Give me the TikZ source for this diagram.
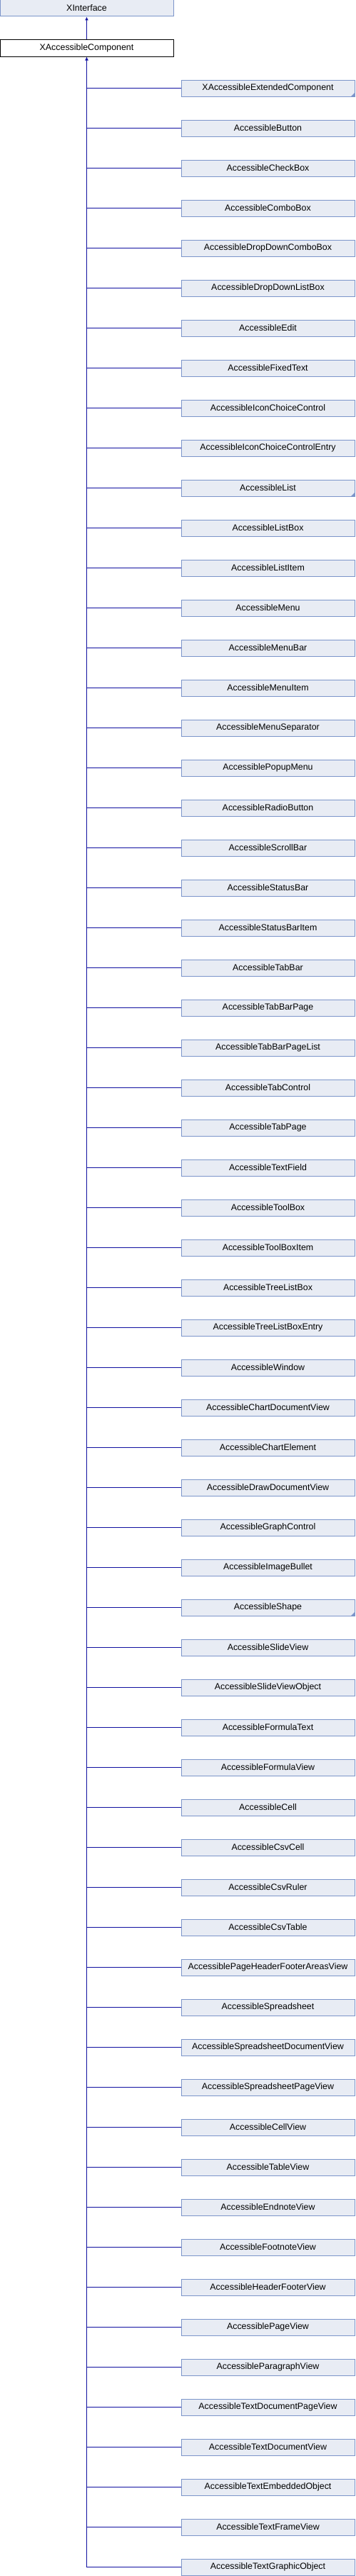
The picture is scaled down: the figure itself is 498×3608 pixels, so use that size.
\documentclass[tikz,border=0pt]{standalone}
\usepackage{fontspec}
\setmainfont{Liberation Sans}
\usetikzlibrary{arrows.meta}

\definecolor{boxfill}{RGB}{232,236,244}
\definecolor{boxline}{RGB}{124,149,202}
\definecolor{linkline}{RGB}{16,16,160}

\tikzset{
  classbox/.style={rectangle, draw=boxline, fill=boxfill, line width=1pt,
    minimum width=243pt, minimum height=23pt, inner sep=0pt,
    font=\fontsize{12.4}{14}\selectfont},
  rootbox/.style={classbox, draw=black, fill=white},
  inherit/.style={draw=linkline, line width=1pt},
  inharrow/.style={inherit, -{Latex[length=5pt,width=5pt]}},
}

\begin{document}
\begin{tikzpicture}[x=1pt, y=1pt]
  \useasboundingbox (0,0) rectangle (498,-3608);
  \node[classbox] (iface) at (121.5,-11.5) {XInterface};
  \node[rootbox] (comp) at (121.5,-67.5) {XAccessibleComponent};
  \draw[inharrow] (comp.north) -- (iface.south);
  % derived classes, one row each
  \foreach \name [count=\i] in {XAccessibleExtendedComponent, AccessibleButton,
      AccessibleCheckBox, AccessibleComboBox, AccessibleDropDownComboBox,
      AccessibleDropDownListBox, AccessibleEdit, AccessibleFixedText,
      AccessibleIconChoiceControl, AccessibleIconChoiceControlEntry,
      AccessibleList, AccessibleListBox, AccessibleListItem, AccessibleMenu,
      AccessibleMenuBar, AccessibleMenuItem, AccessibleMenuSeparator,
      AccessiblePopupMenu, AccessibleRadioButton, AccessibleScrollBar,
      AccessibleStatusBar, AccessibleStatusBarItem, AccessibleTabBar,
      AccessibleTabBarPage, AccessibleTabBarPageList, AccessibleTabControl,
      AccessibleTabPage, AccessibleTextField, AccessibleToolBox,
      AccessibleToolBoxItem, AccessibleTreeListBox, AccessibleTreeListBoxEntry,
      AccessibleWindow, AccessibleChartDocumentView, AccessibleChartElement,
      AccessibleDrawDocumentView, AccessibleGraphControl, AccessibleImageBullet,
      AccessibleShape, AccessibleSlideView, AccessibleSlideViewObject,
      AccessibleFormulaText, AccessibleFormulaView, AccessibleCell,
      AccessibleCsvCell, AccessibleCsvRuler, AccessibleCsvTable,
      AccessiblePageHeaderFooterAreasView, AccessibleSpreadsheet,
      AccessibleSpreadsheetDocumentView, AccessibleSpreadsheetPageView,
      AccessibleCellView, AccessibleTableView, AccessibleEndnoteView,
      AccessibleFootnoteView, AccessibleHeaderFooterView, AccessiblePageView,
      AccessibleParagraphView, AccessibleTextDocumentPageView,
      AccessibleTextDocumentView, AccessibleTextEmbeddedObject,
      AccessibleTextFrameView, AccessibleTextGraphicObject}
    \node[classbox] (c\i) at (375.5,{-123.5-56*(\i-1)}) {\name};
  % classes with further children get a corner mark
  \foreach \i in {1,11,39}
    \fill[boxline] (c\i.south east) -- ++(-6,0) -- ++(6,6) -- cycle;
  \foreach \i in {1,...,63}
    \draw[inherit] (c\i.west) -- (c\i.west -| comp.south);
  \draw[inharrow] (c63.west -| comp.south) -- (comp.south);
\end{tikzpicture}
\end{document}
